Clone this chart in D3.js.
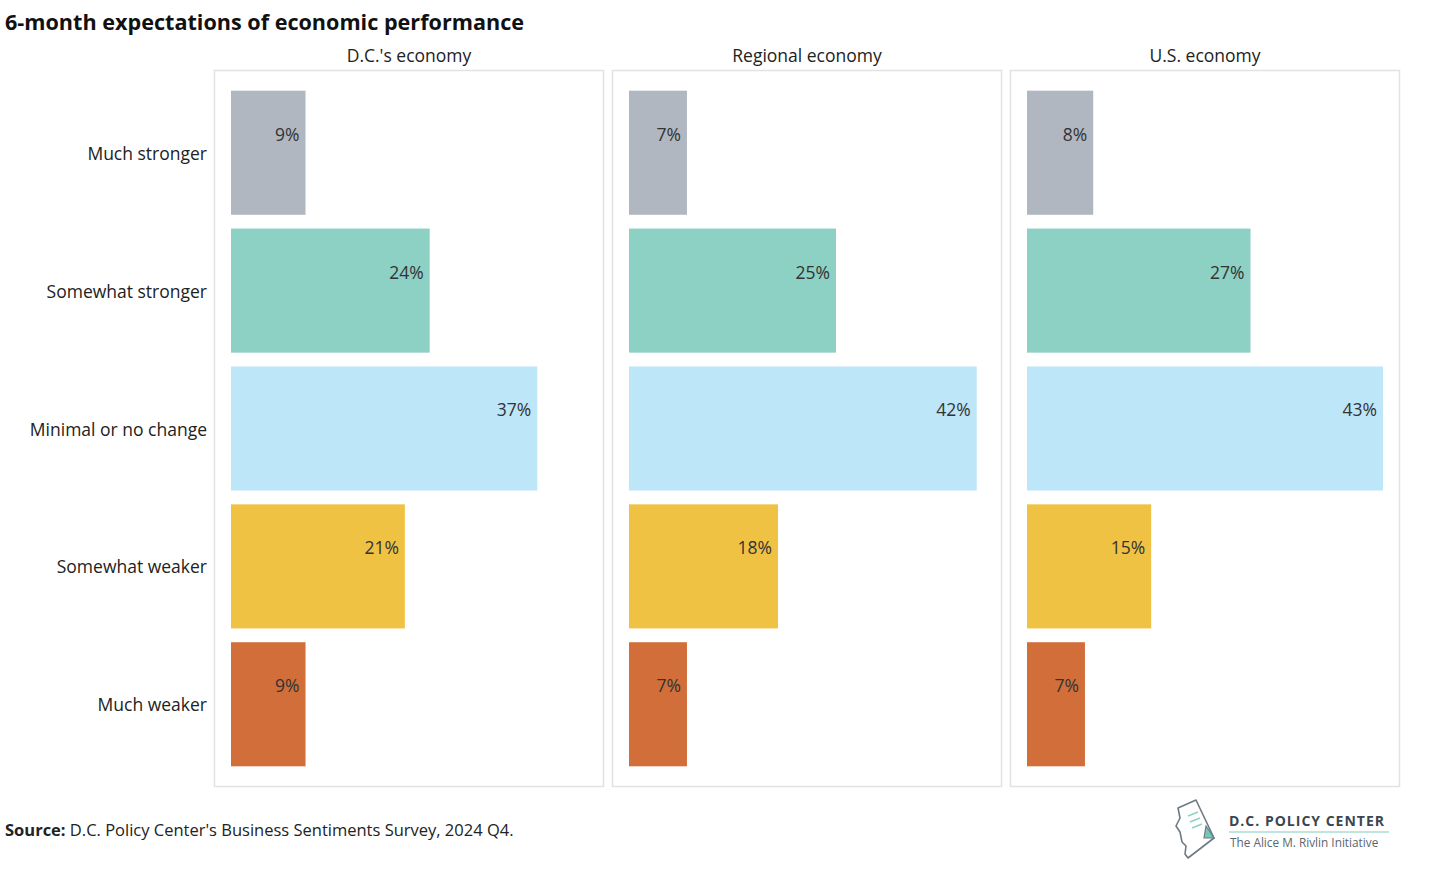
<!DOCTYPE html>
<html><head><meta charset="utf-8">
<script src="https://cdn.jsdelivr.net/npm/d3@7"></script>
<style>
body{margin:0;background:#fff;}
text{font-family:"Open Sans",Lato,sans-serif;}
</style></head>
<body><svg id="c" width="1430" height="870"></svg>
<script>
const categories = ["Much stronger","Somewhat stronger","Minimal or no change","Somewhat weaker","Much weaker"];
const panels = ["D.C.'s economy","Regional economy","U.S. economy"];
const dcValues = [9,24,37,21,9];
const regionalValues = [7,25,42,18,7];
const usValues = [8,27,43,15,7];
const colors = ["#b1b7c0","#8dd0c4","#bee6f9","#f0c244","#d26e3a"];

const series = [dcValues, regionalValues, usValues];
const svg = d3.select("#c");
const FONT = "'Open Sans',Lato,sans-serif";

svg.append("text").attr("x",5).attr("y",30).attr("font-size",21.6).attr("font-weight",700).attr("fill","#111")
  .text("6-month expectations of economic performance");

const panelX = d3.scaleBand().domain(panels).range([214,1400]).paddingInner(0.0201);
const y = d3.scaleBand().domain(categories).range([70,787]).paddingInner(0.1).paddingOuter(0.15);
const x = d3.scaleLinear().domain([0,43]).range([17,373]);

panels.forEach((p,i)=>{
  const g = svg.append("g").attr("transform",`translate(${panelX(p)},0)`);
  g.append("rect").attr("x",0.5).attr("y",70.5).attr("width",panelX.bandwidth()-1).attr("height",716)
    .attr("fill","none").attr("stroke","#e2e2e2").attr("stroke-width",1.5);
  g.append("text").attr("x",panelX.bandwidth()/2).attr("y",62).attr("text-anchor","middle")
    .attr("font-size",17.5).attr("fill","#222").text(p);
  g.selectAll("rect.bar").data(series[i]).join("rect").attr("class","bar")
    .attr("x",x(0)).attr("y",(d,j)=>y(categories[j])).attr("width",d=>x(d)-x(0)).attr("height",y.bandwidth())
    .attr("fill",(d,j)=>colors[j]);
  g.selectAll("text.val").data(series[i]).join("text").attr("class","val")
    .attr("x",d=>x(d)-6).attr("y",(d,j)=>y(categories[j])+y.bandwidth()*0.35+6.5)
    .attr("text-anchor","end").attr("font-size",17.5).attr("fill","#333").text(d=>d+"%");
});

const yAxis = d3.axisLeft(y).tickSize(0).tickPadding(7);
const ag = svg.append("g").attr("transform","translate(214,1.5)").call(yAxis);
ag.select(".domain").remove();
ag.selectAll("text").attr("font-size",17.5).attr("fill","#222").attr("font-family",FONT);

const src = svg.append("text").attr("x",5).attr("y",836).attr("font-size",16.5).attr("fill","#222");
src.append("tspan").attr("font-weight",700).text("Source:");
src.append("tspan").text(" D.C. Policy Center's Business Sentiments Survey, 2024 Q4.");

// logo
const lg = svg.append("g").attr("transform","translate(1168,798)");
lg.append("path").attr("d","M10,10 L28,2 L46,40 L20,60 L17,56 L18,48 L14,44 L12,34 L8,28 L12,20 Z")
  .attr("fill","#fff").attr("stroke","#6f7a85").attr("stroke-width",1.6).attr("stroke-linejoin","round");
lg.append("path").attr("d","M36,40 L46,40 L38,28 Z").attr("fill","#72c9b6").attr("stroke","#6f7a85").attr("stroke-width",1.2);
[[20,18,30,14],[22,24,32,20],[24,30,34,26]].forEach(l=>lg.append("line").attr("x1",l[0]).attr("y1",l[1]).attr("x2",l[2]).attr("y2",l[3]).attr("stroke","#8fd3c4").attr("stroke-width",1.6));
svg.append("text").attr("x",1229).attr("y",826).attr("font-size",14).attr("font-weight",700).attr("letter-spacing",1).attr("fill","#3b4650").text("D.C. POLICY CENTER");
svg.append("line").attr("x1",1229).attr("x2",1389).attr("y1",832).attr("y2",832).attr("stroke","#a8ddd3").attr("stroke-width",1.5);
svg.append("text").attr("x",1230).attr("y",847).attr("font-size",11.8).attr("fill","#5b6670").text("The Alice M. Rivlin Initiative");
</script></body></html>
